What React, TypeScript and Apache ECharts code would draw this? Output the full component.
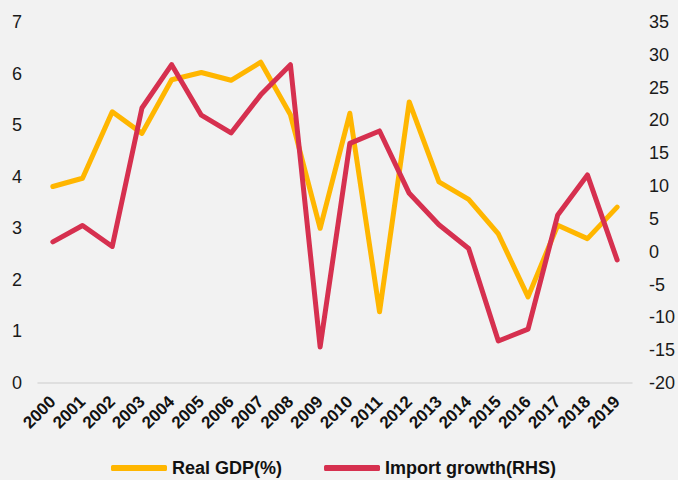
import React, { useEffect, useRef } from "react";
import * as echarts from "echarts";

const years = ["2000","2001","2002","2003","2004","2005","2006","2007","2008","2009","2010","2011","2012","2013","2014","2015","2016","2017","2018","2019"];
const realGdp = [3.81, 3.97, 5.26, 4.84, 5.88, 6.02, 5.87, 6.22, 5.2, 3.0, 5.23, 1.38, 5.45, 3.9, 3.56, 2.89, 1.67, 3.06, 2.8, 3.41];
const importGrowth = [1.5, 4.0, 0.8, 21.9, 28.5, 20.8, 18.1, 23.9, 28.5, -14.5, 16.5, 18.4, 8.9, 4.1, 0.5, -13.6, -11.8, 5.6, 11.7, -1.25];
const seriesNames = ["Real GDP(%)", "Import growth(RHS)"];

export default function App() {
  const ref = useRef<HTMLDivElement>(null);
  useEffect(() => {
    const chart = echarts.init(ref.current!, null, { renderer: "svg" });
    chart.setOption({
      animation: false,
      backgroundColor: "#f2f2f2",
      grid: { left: 38, right: 45, top: 22, bottom: 97 },
      legend: {
        top: 454,
        left: 106,
        itemWidth: 56,
        itemHeight: 6,
        itemGap: 42,
        icon: "roundRect",
        textStyle: { fontFamily: "Liberation Sans, Arial", fontSize: 18, fontWeight: "bold", color: "#111" },
        data: seriesNames,
      },
      xAxis: {
        type: "category",
        data: years,
        axisLine: { lineStyle: { color: "#d9d9d9", width: 1.5 } },
        axisTick: { show: false },
        axisLabel: {
          rotate: 45,
          interval: 0,
          margin: 16,
          fontFamily: "Liberation Sans, Arial",
          fontSize: 17,
          fontWeight: "bold",
          color: "#111",
        },
      },
      yAxis: [
        {
          type: "value",
          min: 0,
          max: 7,
          interval: 1,
          splitLine: { show: false },
          axisLine: { show: false },
          axisTick: { show: false },
          axisLabel: { margin: 16, fontFamily: "Liberation Sans, Arial", fontSize: 18, color: "#1a1a1a" },
        },
        {
          type: "value",
          min: -20,
          max: 35,
          interval: 5,
          splitLine: { show: false },
          axisLine: { show: false },
          axisTick: { show: false },
          axisLabel: { margin: 17, fontFamily: "Liberation Sans, Arial", fontSize: 18, color: "#1a1a1a" },
        },
      ],
      series: [
        {
          name: seriesNames[0],
          type: "line",
          data: realGdp,
          yAxisIndex: 0,
          symbol: "none",
          color: "#ffb600",
          lineStyle: { width: 5, color: "#ffb600", cap: "round", join: "round" },
        },
        {
          name: seriesNames[1],
          type: "line",
          data: importGrowth,
          yAxisIndex: 1,
          symbol: "none",
          color: "#d6304f",
          lineStyle: { width: 5, color: "#d6304f", cap: "round", join: "round" },
        },
      ],
    });
    return () => chart.dispose();
  }, []);
  return <div ref={ref} style={{ width: 678, height: 480, position: "absolute", left: 0, top: 0 }} />;
}
